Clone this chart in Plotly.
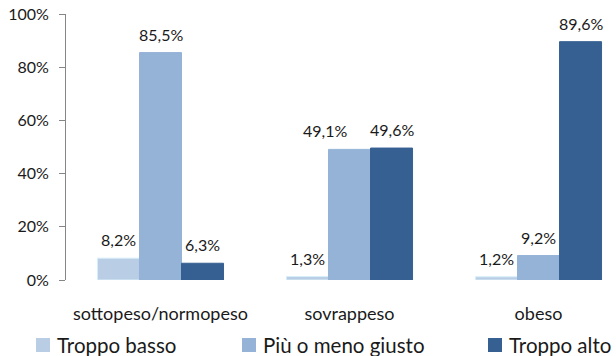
import plotly.graph_objects as go

# --- data -------------------------------------------------------------
categories = ["sottopeso/normopeso", "sovrappeso", "obeso"]
series_names = ["Troppo basso", "Più o meno giusto", "Troppo alto"]
troppo_basso = [8.2, 1.3, 1.2]
piu_o_meno_giusto = [85.5, 49.1, 9.2]
troppo_alto = [6.3, 49.6, 89.6]
y_tick_values = [0, 20, 40, 60, 80, 100]

# --- style ------------------------------------------------------------
W, H = 616, 356
M_L, M_R, M_T, M_B = 66, 0, 14, 76
colors = ["#B9CDE5", "#95B3D7", "#376092"]
edge_colors = ["#D6EEF9", "#95B3D7", "#376092"]
FONT = "Lato"
TEXT_COLOR = "#1a1a1a"
BARGAP = 0.333
X_RANGE = [-0.5, 2.41]
# small horizontal nudges of individual value labels, in pixels
label_nudge = {(1, 1): -25}

plot_w = W - M_L - M_R
plot_h = H - M_T - M_B


def paper_x(px):
    return (px - M_L) / plot_w


def paper_y(py):
    return (H - M_B - py) / plot_h


def pct_label(v):
    return f"{v:.1f}".replace(".", ",") + "%"


all_series = [troppo_basso, piu_o_meno_giusto, troppo_alto]
n_series = len(all_series)
bar_w = (1 - BARGAP) / n_series

fig = go.Figure()
for i, (name, vals) in enumerate(zip(series_names, all_series)):
    fig.add_trace(go.Bar(
        x=categories,
        y=vals,
        name=name,
        marker=dict(color=colors[i], line=dict(color=edge_colors[i], width=1)),
        showlegend=False,
        hoverinfo="skip",
    ))

annotations = []
# value labels above each bar
for i, vals in enumerate(all_series):
    for c, v in enumerate(vals):
        annotations.append(dict(
            x=c + (i - (n_series - 1) / 2) * bar_w,
            y=v,
            xref="x", yref="y",
            text=pct_label(v),
            showarrow=False,
            yanchor="bottom",
            xanchor="center",
            yshift=7,
            xshift=label_nudge.get((c, i), 0),
            font=dict(family=FONT, size=16, color=TEXT_COLOR),
        ))

# legend row along the bottom
legend_left_px = [36, 242, 488]
legend_mid_py = 345
SQ = 14
shapes = []
for i, name in enumerate(series_names):
    x0 = legend_left_px[i]
    shapes.append(dict(
        type="rect", xref="paper", yref="paper",
        x0=paper_x(x0), x1=paper_x(x0 + SQ),
        y0=paper_y(legend_mid_py + SQ / 2), y1=paper_y(legend_mid_py - SQ / 2),
        line=dict(width=0), fillcolor=colors[i],
    ))
    annotations.append(dict(
        x=paper_x(x0 + SQ + 5), y=paper_y(legend_mid_py),
        xref="paper", yref="paper",
        text=name, showarrow=False,
        xanchor="left", yanchor="middle",
        font=dict(family=FONT, size=20.5, color=TEXT_COLOR),
    ))

fig.update_layout(
    width=W, height=H,
    margin=dict(l=M_L, r=M_R, t=M_T, b=M_B, pad=0),
    paper_bgcolor="white",
    plot_bgcolor="white",
    barmode="group",
    bargap=BARGAP,
    bargroupgap=0,
    font=dict(family=FONT, color=TEXT_COLOR),
    annotations=annotations,
    shapes=shapes,
    showlegend=False,
)

fig.update_xaxes(
    range=X_RANGE,
    showline=False,
    showgrid=False,
    zeroline=False,
    ticks="",
    tickfont=dict(family=FONT, size=18, color=TEXT_COLOR),
    ticklabelstandoff=21,
)

fig.update_yaxes(
    range=[0, 100],
    tickvals=y_tick_values,
    ticktext=[f"{t}%" for t in y_tick_values],
    showline=True,
    linecolor="#868686",
    linewidth=1,
    ticks="outside",
    ticklen=6,
    tickcolor="#868686",
    showgrid=False,
    zeroline=False,
    tickfont=dict(family=FONT, size=16, color=TEXT_COLOR),
    ticklabelstandoff=7,
)

fig.write_html("out.html")
